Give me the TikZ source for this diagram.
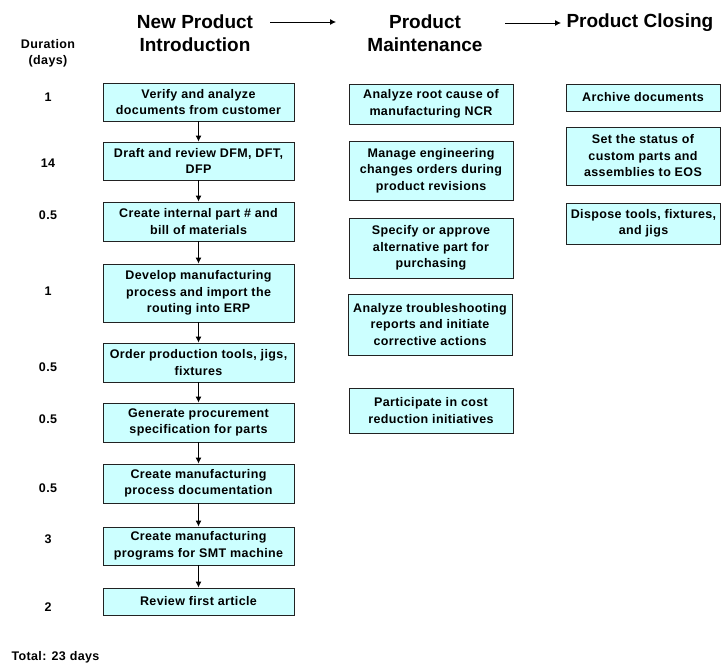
\documentclass[tikz,border=0pt]{standalone}
\usepackage{fontspec}
\setmainfont{Liberation Sans}
\newfontfamily\boxfont[LetterSpace=3]{Liberation Sans}
\usetikzlibrary{arrows.meta}
\definecolor{boxfill}{HTML}{CCFFFF}
\definecolor{boxline}{HTML}{222222}
\tikzset{
  task/.style={draw=boxline, line width=0.9pt, fill=boxfill, align=center,
    inner sep=2pt, font=\boxfont\bfseries\fontsize{12.5}{16.5}\selectfont},
  leftbox/.style={task, minimum width=191pt},
  midbox/.style={task, minimum width=164pt},
  rightbox/.style={task, minimum width=154pt},
  flow/.style={-{Latex[length=6pt,width=6pt]}, line width=0.9pt},
  phase/.style={align=center, font=\bfseries\fontsize{19}{23}\selectfont},
  phasearrow/.style={-{Latex[length=6pt,width=6pt]}, line width=0.8pt},
  dur/.style={font=\boxfont\bfseries\fontsize{12.5}{16}\selectfont, align=center}
}
\begin{document}
\begin{tikzpicture}[x=1pt, y=-1pt]
\useasboundingbox (0,0) rectangle (722,665);

% phase headings
\node[phase] (npi) at (195,33) {New Product\\Introduction};
\node[phase] (pm) at (425,33) {Product\\Maintenance};
\node[phase, anchor=west] (pc) at (563,23) {Product Closing};
\coordinate (a1s) at (270,22);
\coordinate (a1e) at (336,22);
\coordinate (a2s) at (505,23);
\coordinate (a2e) at (561,23);
\draw[phasearrow] (a1s) -- (a1e);
\draw[phasearrow] (a2s) -- (a2e);

% duration column
\node[dur] (durh) at (48,53) {Duration\\(days)};
\node[dur] (d1) at (48,97) {1};
\node[dur] (d2) at (48,163) {14};
\node[dur] (d3) at (48,215) {0.5};
\node[dur] (d4) at (48,291) {1};
\node[dur] (d5) at (48,367) {0.5};
\node[dur] (d6) at (48,419) {0.5};
\node[dur] (d7) at (48,488) {0.5};
\node[dur] (d8) at (48,539) {3};
\node[dur] (d9) at (48,607) {2};
\node[dur, anchor=west] (total) at (8,657) {Total: 23 days};

% new product introduction steps
\node[leftbox, minimum height=38pt] (n1) at (198.5,102) {Verify and analyze\\documents from customer};
\node[leftbox, minimum height=38pt] (n2) at (198.5,161) {Draft and review DFM, DFT,\\DFP};
\node[leftbox, minimum height=39pt] (n3) at (198.5,221.5) {Create internal part \# and\\bill of materials};
\node[leftbox, minimum height=58pt] (n4) at (198.5,293) {Develop manufacturing\\process and import the\\routing into ERP};
\node[leftbox, minimum height=39pt] (n5) at (198.5,362.5) {Order production tools, jigs,\\fixtures};
\node[leftbox, minimum height=39pt] (n6) at (198.5,422.5) {Generate procurement\\specification for parts};
\node[leftbox, minimum height=39pt] (n7) at (198.5,483.5) {Create manufacturing\\process documentation};
\node[leftbox, minimum height=38pt] (n8) at (198.5,546) {Create manufacturing\\programs for SMT machine};
\node[leftbox, minimum height=27pt] (n9) at (198.5,601.5) {Review first article};

\foreach \a/\b in {n1/n2,n2/n3,n3/n4,n4/n5,n5/n6,n6/n7,n7/n8,n8/n9}
  \draw[flow] (\a.south) -- (\b.north);

% product maintenance tasks
\node[midbox, minimum height=40pt] (m1) at (431,104) {Analyze root cause of\\manufacturing NCR};
\node[midbox, minimum height=59pt] (m2) at (431,170.5) {Manage engineering\\changes orders during\\product revisions};
\node[midbox, minimum height=60pt] (m3) at (431,248) {Specify or approve\\alternative part for\\purchasing};
\node[midbox, minimum height=61pt] (m4) at (430,324.5) {Analyze troubleshooting\\reports and initiate\\corrective actions};
\node[midbox, minimum height=45pt] (m5) at (431,410.5) {Participate in cost\\reduction initiatives};

% product closing tasks
\node[rightbox, minimum height=27pt] (r1) at (643,97.5) {Archive documents};
\node[rightbox, minimum height=58pt] (r2) at (643,156) {Set the status of\\custom parts and\\assemblies to EOS};
\node[rightbox, minimum height=41pt] (r3) at (643.5,223.5) {Dispose tools, fixtures,\\and jigs};
\end{tikzpicture}
\end{document}
